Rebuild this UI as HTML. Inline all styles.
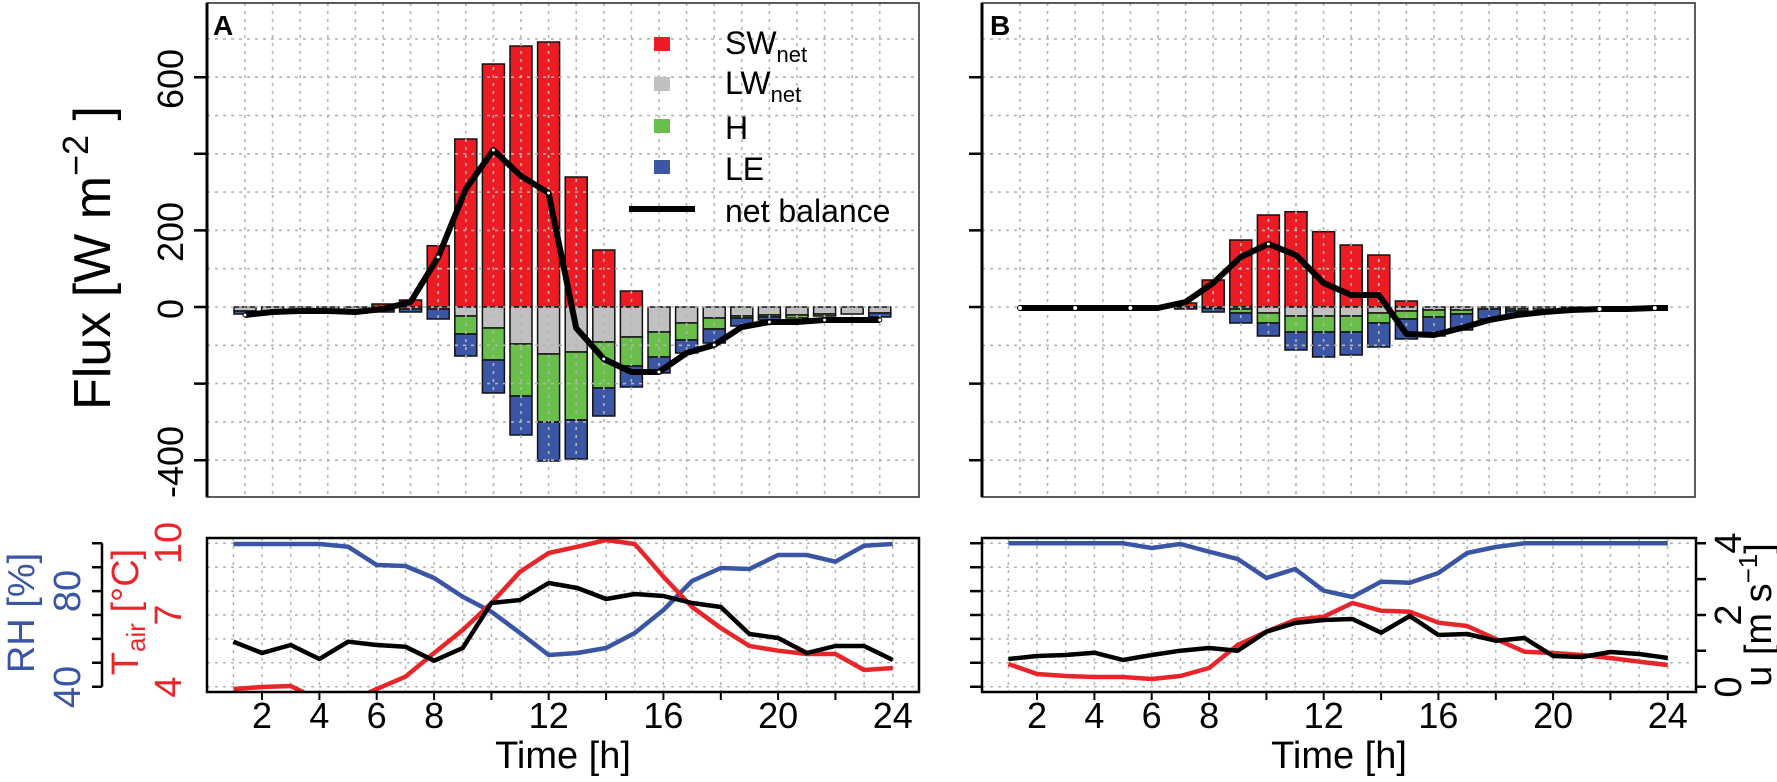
<!DOCTYPE html>
<html><head><meta charset="utf-8"><style>
html,body{margin:0;padding:0;background:#fff}
svg{display:block}
text{font-family:"Liberation Sans",Arial,sans-serif}
</style></head><body>
<svg width="1777" height="782" viewBox="0 0 1777 782" xmlns="http://www.w3.org/2000/svg">
<defs>
<clipPath id="cA"><rect x="207" y="538" width="712" height="154"/></clipPath>
<clipPath id="cB"><rect x="982" y="538" width="714" height="154"/></clipPath>
<g id="gv">
<path d="M245 3V497M272.6 3V497M300.2 3V497M327.8 3V497M355.4 3V497M383 3V497M410.6 3V497M438.2 3V497M465.8 3V497M493.4 3V497M521 3V497M548.6 3V497M576.2 3V497M603.8 3V497M631.4 3V497M659 3V497M686.6 3V497M714.2 3V497M741.8 3V497M769.4 3V497M797 3V497M824.6 3V497M852.2 3V497M879.8 3V497M207 38.9H919M207 77.2H919M207 115.5H919M207 153.8H919M207 192.1H919M207 230.4H919M207 268.7H919M207 307H919M207 345.3H919M207 383.6H919M207 421.9H919M207 460.2H919" stroke="#b4b4b4" stroke-width="1.6" stroke-dasharray="3 5" fill="none"/>
</g>
<g id="lg">
<path d="M233.4 538V692M262 538V692M290.7 538V692M319.4 538V692M348.1 538V692M376.7 538V692M405.4 538V692M434.1 538V692M462.7 538V692M491.4 538V692M520.1 538V692M548.7 538V692M577.4 538V692M606.1 538V692M634.8 538V692M663.4 538V692M692.1 538V692M720.8 538V692M749.4 538V692M778.1 538V692M806.8 538V692M835.4 538V692M864.1 538V692M892.8 538V692M207 543.3H919M207 567.2H919M207 591.1H919M207 615H919M207 638.9H919M207 662.8H919M207 686.7H919" stroke="#b4b4b4" stroke-width="1.5" stroke-dasharray="3 5" fill="none"/>
</g>
</defs>

<!-- ============ PANEL A TOP ============ -->
<g stroke="#111" stroke-width="1.5">
<g transform="translate(245,0)"><rect x="-11" y="307" width="22" height="4" fill="#c0c0c0"/><rect x="-11" y="311" width="22" height="3" fill="#3b56a5"/></g>
<g transform="translate(272.6,0)"><rect x="-11" y="307" width="22" height="4" fill="#c0c0c0"/><rect x="-11" y="311" width="22" height="2" fill="#3b56a5"/></g>
<g transform="translate(300.2,0)"><rect x="-11" y="307" width="22" height="4" fill="#c0c0c0"/><rect x="-11" y="311" width="22" height="2" fill="#3b56a5"/></g>
<g transform="translate(327.8,0)"><rect x="-11" y="307" width="22" height="4" fill="#c0c0c0"/><rect x="-11" y="311" width="22" height="2" fill="#3b56a5"/></g>
<g transform="translate(355.4,0)"><rect x="-11" y="307" width="22" height="4" fill="#c0c0c0"/><rect x="-11" y="311" width="22" height="2" fill="#3b56a5"/></g>
<g transform="translate(383,0)"><rect x="-11" y="304" width="22" height="3" fill="#ed1c24"/><rect x="-11" y="307" width="22" height="3" fill="#c0c0c0"/><rect x="-11" y="310" width="22" height="2" fill="#3b56a5"/></g>
<g transform="translate(410.6,0)"><rect x="-11" y="300" width="22" height="7" fill="#ed1c24"/><rect x="-11" y="307" width="22" height="2" fill="#c0c0c0"/><rect x="-11" y="309" width="22" height="3" fill="#3b56a5"/></g>
<g transform="translate(438.2,0)"><rect x="-11" y="245.7" width="22" height="61.3" fill="#ed1c24"/><rect x="-11" y="307" width="22" height="2" fill="#c0c0c0"/><rect x="-11" y="309" width="22" height="10" fill="#3b56a5"/></g>
<g transform="translate(465.8,0)"><rect x="-11" y="139" width="22" height="168" fill="#ed1c24"/><rect x="-11" y="307" width="22" height="9" fill="#c0c0c0"/><rect x="-11" y="316" width="22" height="18" fill="#6abf4b"/><rect x="-11" y="334" width="22" height="22" fill="#3b56a5"/></g>
<g transform="translate(493.4,0)"><rect x="-11" y="64" width="22" height="243" fill="#ed1c24"/><rect x="-11" y="307" width="22" height="21" fill="#c0c0c0"/><rect x="-11" y="328" width="22" height="32" fill="#6abf4b"/><rect x="-11" y="360" width="22" height="33" fill="#3b56a5"/></g>
<g transform="translate(521,0)"><rect x="-11" y="46" width="22" height="261" fill="#ed1c24"/><rect x="-11" y="307" width="22" height="37" fill="#c0c0c0"/><rect x="-11" y="344" width="22" height="52" fill="#6abf4b"/><rect x="-11" y="396" width="22" height="39" fill="#3b56a5"/></g>
<g transform="translate(548.6,0)"><rect x="-11" y="42" width="22" height="265" fill="#ed1c24"/><rect x="-11" y="307" width="22" height="47" fill="#c0c0c0"/><rect x="-11" y="354" width="22" height="68" fill="#6abf4b"/><rect x="-11" y="422" width="22" height="39" fill="#3b56a5"/></g>
<g transform="translate(576.2,0)"><rect x="-11" y="177" width="22" height="130" fill="#ed1c24"/><rect x="-11" y="307" width="22" height="45" fill="#c0c0c0"/><rect x="-11" y="352" width="22" height="68" fill="#6abf4b"/><rect x="-11" y="420" width="22" height="39" fill="#3b56a5"/></g>
<g transform="translate(603.8,0)"><rect x="-11" y="250" width="22" height="57" fill="#ed1c24"/><rect x="-11" y="307" width="22" height="35" fill="#c0c0c0"/><rect x="-11" y="342" width="22" height="46" fill="#6abf4b"/><rect x="-11" y="388" width="22" height="28" fill="#3b56a5"/></g>
<g transform="translate(631.4,0)"><rect x="-11" y="291" width="22" height="16" fill="#ed1c24"/><rect x="-11" y="307" width="22" height="30" fill="#c0c0c0"/><rect x="-11" y="337" width="22" height="29" fill="#6abf4b"/><rect x="-11" y="366" width="22" height="21" fill="#3b56a5"/></g>
<g transform="translate(659,0)"><rect x="-11" y="307" width="22" height="25" fill="#c0c0c0"/><rect x="-11" y="332" width="22" height="25" fill="#6abf4b"/><rect x="-11" y="357" width="22" height="16" fill="#3b56a5"/></g>
<g transform="translate(686.6,0)"><rect x="-11" y="307" width="22" height="16" fill="#c0c0c0"/><rect x="-11" y="323" width="22" height="17" fill="#6abf4b"/><rect x="-11" y="340" width="22" height="13" fill="#3b56a5"/></g>
<g transform="translate(714.2,0)"><rect x="-11" y="307" width="22" height="11" fill="#c0c0c0"/><rect x="-11" y="318" width="22" height="11" fill="#6abf4b"/><rect x="-11" y="329" width="22" height="14" fill="#3b56a5"/></g>
<g transform="translate(741.8,0)"><rect x="-11" y="307" width="22" height="9" fill="#c0c0c0"/><rect x="-11" y="316" width="22" height="2" fill="#6abf4b"/><rect x="-11" y="318" width="22" height="8" fill="#3b56a5"/></g>
<g transform="translate(769.4,0)"><rect x="-11" y="307" width="22" height="8" fill="#c0c0c0"/><rect x="-11" y="315" width="22" height="2" fill="#6abf4b"/><rect x="-11" y="317" width="22" height="3" fill="#3b56a5"/></g>
<g transform="translate(797,0)"><rect x="-11" y="307" width="22" height="8" fill="#c0c0c0"/><rect x="-11" y="315" width="22" height="3" fill="#6abf4b"/></g>
<g transform="translate(824.6,0)"><rect x="-11" y="307" width="22" height="7" fill="#c0c0c0"/><rect x="-11" y="314" width="22" height="2" fill="#6abf4b"/></g>
<g transform="translate(852.2,0)"><rect x="-11" y="307" width="22" height="7" fill="#c0c0c0"/></g>
<g transform="translate(879.8,0)"><rect x="-11" y="307" width="22" height="6" fill="#c0c0c0"/><rect x="-11" y="313" width="22" height="4" fill="#3b56a5"/></g>
</g>
<use href="#gv"/>
<polyline fill="none" stroke="#000" stroke-width="6" stroke-linejoin="round" points="245,315 272.6,312 300.2,311 327.8,311 355.4,312 383,309 410.6,302 438.2,257 465.8,189 493.4,150 521,176 548.6,193 576.2,328 603.8,359 631.4,372 659,372 686.6,353 714.2,345 741.8,327 769.4,322 797,322 824.6,320 852.2,320 879.8,320"/>
<g fill="#fff" stroke="#000" stroke-width="1"><circle cx="245" cy="315" r="2"/><circle cx="438.2" cy="257" r="2"/><circle cx="493.4" cy="150" r="2"/><circle cx="548.6" cy="193" r="2"/><circle cx="603.8" cy="359" r="2"/><circle cx="659" cy="372" r="2"/><circle cx="714.2" cy="345" r="2"/><circle cx="769.4" cy="322" r="2"/><circle cx="824.6" cy="320" r="2"/><circle cx="879.8" cy="320" r="2"/></g>
<rect x="207" y="3" width="712" height="494" fill="none" stroke="#333" stroke-width="1.6"/>
<line x1="207" y1="3" x2="207" y2="497" stroke="#000" stroke-width="3"/>
<path d="M194 77.2H207M194 153.8H207M194 230.4H207M194 307H207M194 383.6H207M194 460.2H207" stroke="#000" stroke-width="2.5"/>
<g font-size="36" fill="#000">
<text transform="translate(183,79) rotate(-90)" text-anchor="middle">600</text>
<text transform="translate(183,232) rotate(-90)" text-anchor="middle">200</text>
<text transform="translate(183,309) rotate(-90)" text-anchor="middle">0</text>
<text transform="translate(183,462) rotate(-90)" text-anchor="middle">-400</text>
</g>
<text transform="translate(110,258) rotate(-90)" text-anchor="middle" font-size="52">Flux [W  m<tspan font-size="36" dy="-22">−2</tspan><tspan dy="22"> ]</tspan></text>
<text x="213" y="35" font-size="28" font-weight="bold">A</text>
<!-- legend -->
<rect x="654" y="37" width="16" height="14" fill="#ed1c24"/>
<rect x="654" y="77" width="16" height="14" fill="#c0c0c0"/>
<rect x="654" y="119" width="16" height="14" fill="#6abf4b"/>
<rect x="654" y="160" width="16" height="14" fill="#3b56a5"/>
<line x1="629" y1="209" x2="695" y2="209" stroke="#000" stroke-width="6"/>
<g font-size="32" fill="#000">
<text x="725" y="54">SW<tspan font-size="22" dy="8">net</tspan></text>
<text x="725" y="94">LW<tspan font-size="22" dy="8">net</tspan></text>
<text x="725" y="139">H</text>
<text x="725" y="180">LE</text>
<text x="725" y="222">net balance</text>
</g>

<!-- ============ PANEL B TOP ============ -->
<g stroke="#111" stroke-width="1.5">
<g transform="translate(1185.6,0)"><rect x="-11" y="303" width="22" height="4" fill="#ed1c24"/><rect x="-11" y="307" width="22" height="2" fill="#3b56a5"/></g>
<g transform="translate(1213.2,0)"><rect x="-11" y="280" width="22" height="27" fill="#ed1c24"/><rect x="-11" y="307" width="22" height="1.5" fill="#c0c0c0"/><rect x="-11" y="308.5" width="22" height="3.5" fill="#3b56a5"/></g>
<g transform="translate(1240.8,0)"><rect x="-11" y="240" width="22" height="67" fill="#ed1c24"/><rect x="-11" y="307" width="22" height="2" fill="#c0c0c0"/><rect x="-11" y="309" width="22" height="4" fill="#6abf4b"/><rect x="-11" y="313" width="22" height="10" fill="#3b56a5"/></g>
<g transform="translate(1268.4,0)"><rect x="-11" y="215" width="22" height="92" fill="#ed1c24"/><rect x="-11" y="307" width="22" height="6" fill="#c0c0c0"/><rect x="-11" y="313" width="22" height="10" fill="#6abf4b"/><rect x="-11" y="323" width="22" height="13" fill="#3b56a5"/></g>
<g transform="translate(1296,0)"><rect x="-11" y="211.7" width="22" height="95.3" fill="#ed1c24"/><rect x="-11" y="307" width="22" height="9" fill="#c0c0c0"/><rect x="-11" y="316" width="22" height="16" fill="#6abf4b"/><rect x="-11" y="332" width="22" height="18" fill="#3b56a5"/></g>
<g transform="translate(1323.6,0)"><rect x="-11" y="231.7" width="22" height="75.3" fill="#ed1c24"/><rect x="-11" y="307" width="22" height="9" fill="#c0c0c0"/><rect x="-11" y="316" width="22" height="16" fill="#6abf4b"/><rect x="-11" y="332" width="22" height="25" fill="#3b56a5"/></g>
<g transform="translate(1351.2,0)"><rect x="-11" y="245" width="22" height="62" fill="#ed1c24"/><rect x="-11" y="307" width="22" height="9" fill="#c0c0c0"/><rect x="-11" y="316" width="22" height="16" fill="#6abf4b"/><rect x="-11" y="332" width="22" height="23" fill="#3b56a5"/></g>
<g transform="translate(1378.8,0)"><rect x="-11" y="255" width="22" height="52" fill="#ed1c24"/><rect x="-11" y="307" width="22" height="6" fill="#c0c0c0"/><rect x="-11" y="313" width="22" height="10" fill="#6abf4b"/><rect x="-11" y="323" width="22" height="24" fill="#3b56a5"/></g>
<g transform="translate(1406.4,0)"><rect x="-11" y="301" width="22" height="6" fill="#ed1c24"/><rect x="-11" y="307" width="22" height="4" fill="#c0c0c0"/><rect x="-11" y="311" width="22" height="8" fill="#6abf4b"/><rect x="-11" y="319" width="22" height="20" fill="#3b56a5"/></g>
<g transform="translate(1434,0)"><rect x="-11" y="307" width="22" height="3" fill="#c0c0c0"/><rect x="-11" y="310" width="22" height="7" fill="#6abf4b"/><rect x="-11" y="317" width="22" height="19" fill="#3b56a5"/></g>
<g transform="translate(1461.6,0)"><rect x="-11" y="307" width="22" height="3" fill="#c0c0c0"/><rect x="-11" y="310" width="22" height="4" fill="#6abf4b"/><rect x="-11" y="314" width="22" height="16" fill="#3b56a5"/></g>
<g transform="translate(1489.2,0)"><rect x="-11" y="307" width="22" height="2" fill="#c0c0c0"/><rect x="-11" y="309" width="22" height="10" fill="#3b56a5"/></g>
<g transform="translate(1516.8,0)"><rect x="-11" y="307" width="22" height="2" fill="#c0c0c0"/><rect x="-11" y="309" width="22" height="2" fill="#6abf4b"/><rect x="-11" y="311" width="22" height="4" fill="#3b56a5"/></g>
<g transform="translate(1544.4,0)"><rect x="-11" y="307" width="22" height="2" fill="#c0c0c0"/></g>
<g transform="translate(1572,0)"><rect x="-11" y="307" width="22" height="2" fill="#c0c0c0"/></g>
</g>
<use href="#gv" transform="translate(775,0)"/>
<polyline fill="none" stroke="#000" stroke-width="6" stroke-linejoin="round" points="1020,308 1047.6,308 1075.2,308 1102.8,308 1130.4,308 1158,308 1185.6,302 1213.2,283 1240.8,257 1268.4,244 1296,255 1323.6,283 1351.2,295 1378.8,295 1406.4,334 1434,335 1461.6,328 1489.2,320 1516.8,315 1544.4,312 1572,310 1599.6,309 1627.2,309 1654.8,308 1668,308"/>
<g fill="#fff" stroke="#000" stroke-width="1"><circle cx="1020" cy="308" r="2.5"/><circle cx="1075.2" cy="308" r="2.5"/><circle cx="1130.4" cy="308" r="2.5"/><circle cx="1268.4" cy="244" r="2"/><circle cx="1599.6" cy="309" r="2.5"/><circle cx="1654.8" cy="308" r="2.5"/></g>
<rect x="982" y="3" width="713" height="494" fill="none" stroke="#333" stroke-width="1.6"/>
<line x1="982" y1="3" x2="982" y2="497" stroke="#000" stroke-width="3"/>
<path d="M969 77.2H982M969 153.8H982M969 230.4H982M969 307H982M969 383.6H982M969 460.2H982" stroke="#000" stroke-width="2.5"/>
<text x="990" y="35" font-size="28" font-weight="bold">B</text>

<!-- ============ PANEL A BOTTOM ============ -->
<use href="#lg"/>
<g clip-path="url(#cA)" fill="none" stroke-width="4.5" stroke-linejoin="round">
<polyline stroke="#3a55a4" points="233.4,544 262,544 290.7,544 319.4,544 348.1,546.7 376.7,565 405.4,566 434.1,578 462.7,596.7 491.4,611.7 520.1,633 548.7,655 577.4,653 606.1,648 634.8,633 663.4,610 692.1,581 720.8,568 749.4,569 778.1,555 806.8,555 835.4,561.7 864.1,545.7 892.8,544"/>
<polyline stroke="#e8262a" points="233.4,689 262,687 290.7,686 319.4,700 348.1,702 376.7,689 405.4,676.7 434.1,653 462.7,630 491.4,603 520.1,571.7 548.7,553 577.4,546.7 606.1,540 634.8,544 663.4,576.7 692.1,607 720.8,628 749.4,646 778.1,650.7 806.8,654 835.4,654 864.1,670 892.8,668"/>
<polyline stroke="#000" points="233.4,641.7 262,653 290.7,645 319.4,659 348.1,641.7 376.7,645 405.4,646.7 434.1,660.7 462.7,648 491.4,603 520.1,600 548.7,583 577.4,588 606.1,599 634.8,594 663.4,596 692.1,603 720.8,607 749.4,634 778.1,638 806.8,653 835.4,646 864.1,646 892.8,660"/>
</g>
<rect x="207" y="538" width="712" height="154" fill="none" stroke="#000" stroke-width="2.5"/>
<path d="M262 692V700M319.4 692V700M376.7 692V700M434.1 692V700M491.4 692V700M548.7 692V700M606.1 692V700M663.4 692V700M720.8 692V700M778.1 692V700M835.4 692V700M892.8 692V700" stroke="#000" stroke-width="2"/>
<line x1="102" y1="543.3" x2="102" y2="686.7" stroke="#000" stroke-width="2.5"/>
<path d="M92 543.3H102M92 567.2H102M92 591.1H102M92 615H102M92 638.9H102M92 662.8H102M92 686.7H102" stroke="#000" stroke-width="2.5"/>
<g font-size="36" fill="#000" text-anchor="middle">
<text x="262" y="728">2</text><text x="319.4" y="728">4</text><text x="376.7" y="728">6</text><text x="434.1" y="728">8</text><text x="548.7" y="728">12</text><text x="663.4" y="728">16</text><text x="778.1" y="728">20</text><text x="892.8" y="728">24</text>
<text x="563" y="768" font-size="38">Time [h]</text>
</g>
<g font-size="38" fill="#3a55a4" text-anchor="middle">
<text transform="translate(80,687) rotate(-90)">40</text>
<text transform="translate(80,591) rotate(-90)">80</text>
<text transform="translate(34,613) rotate(-90)">RH [%]</text>
</g>
<g font-size="38" fill="#e8262a" text-anchor="middle">
<text transform="translate(181,687) rotate(-90)">4</text>
<text transform="translate(181,615) rotate(-90)">7</text>
<text transform="translate(181,543) rotate(-90)">10</text>
<text transform="translate(138,612) rotate(-90)">T<tspan font-size="26" dy="7">air</tspan><tspan dy="-7"> [°C]</tspan></text>
</g>

<!-- ============ PANEL B BOTTOM ============ -->
<use href="#lg" transform="translate(775,0)"/>
<g clip-path="url(#cB)" fill="none" stroke-width="4.5" stroke-linejoin="round">
<polyline stroke="#3a55a4" points="1008.4,543.3 1037,543.3 1065.7,543.3 1094.4,543.3 1123.1,543.3 1151.7,548 1180.4,544 1209.1,551.7 1237.7,559 1266.4,578 1295.1,569 1323.7,590.7 1352.4,597 1381.1,581.7 1409.8,582.7 1438.4,573 1467.1,553 1495.8,547 1524.4,543.3 1553.1,543.3 1581.8,543.3 1610.4,543.3 1639.1,543.3 1667.8,543.3"/>
<polyline stroke="#e8262a" points="1008.4,664 1037,674 1065.7,676 1094.4,677 1123.1,677 1151.7,679 1180.4,676 1209.1,668 1237.7,645 1266.4,631.7 1295.1,620 1323.7,616.7 1352.4,603 1381.1,610.7 1409.8,611.7 1438.4,622.7 1467.1,626 1495.8,639 1524.4,651.7 1553.1,653 1581.8,655 1610.4,658 1639.1,661.7 1667.8,665"/>
<polyline stroke="#000" points="1008.4,659 1037,656 1065.7,655 1094.4,652.7 1123.1,660 1151.7,655 1180.4,650.7 1209.1,648 1237.7,650.7 1266.4,631.7 1295.1,623 1323.7,620 1352.4,619 1381.1,632.7 1409.8,616 1438.4,635 1467.1,634 1495.8,640.7 1524.4,638 1553.1,656 1581.8,657 1610.4,652 1639.1,654 1667.8,658"/>
</g>
<rect x="982" y="538" width="714" height="154" fill="none" stroke="#000" stroke-width="2.5"/>
<path d="M970 543.3H982M970 567.2H982M970 591.1H982M970 615H982M970 638.9H982M970 662.8H982M970 686.7H982" stroke="#000" stroke-width="2.5"/>
<path d="M1696 543.3H1706M1696 579.1H1706M1696 615H1706M1696 650.8H1706M1696 686.7H1706" stroke="#000" stroke-width="2.5"/>
<path d="M1037 692V700M1094.4 692V700M1151.7 692V700M1209.1 692V700M1266.4 692V700M1323.7 692V700M1381.1 692V700M1438.4 692V700M1495.8 692V700M1553.1 692V700M1610.4 692V700M1667.8 692V700" stroke="#000" stroke-width="2"/>
<g font-size="36" fill="#000" text-anchor="middle">
<text x="1037" y="728">2</text><text x="1094.4" y="728">4</text><text x="1151.7" y="728">6</text><text x="1209.1" y="728">8</text><text x="1323.7" y="728">12</text><text x="1438.4" y="728">16</text><text x="1553.1" y="728">20</text><text x="1667.8" y="728">24</text>
<text x="1339" y="768" font-size="38">Time [h]</text>
</g>
<g font-size="38" fill="#000" text-anchor="middle">
<text transform="translate(1741,687) rotate(-90)">0</text>
<text transform="translate(1741,615) rotate(-90)">2</text>
<text transform="translate(1741,543) rotate(-90)">4</text>
<text transform="translate(1771,615) rotate(-90)">u [m s<tspan font-size="26" dy="-14">−1</tspan><tspan dy="14">]</tspan></text>
</g>
</svg>
</body></html>
